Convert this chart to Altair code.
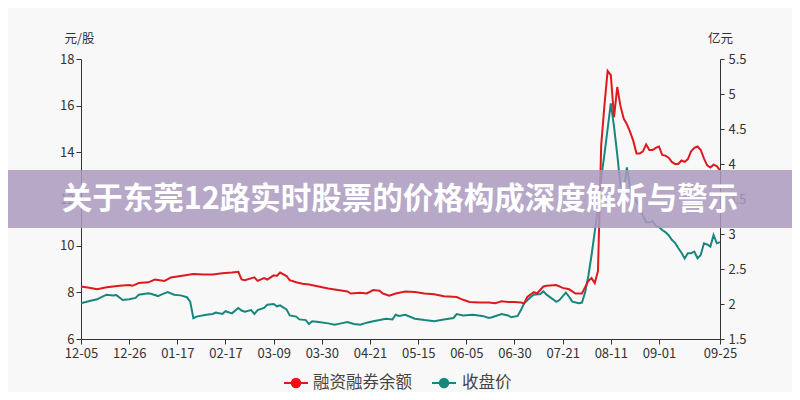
import json
import altair as alt
import pandas as pd

# ---- data ----
tick_days = [0, 15, 30, 45, 60, 75, 90, 105, 120, 135, 150, 165, 180, 199]
tick_labels = ["12-05", "12-26", "01-17", "02-17", "03-09", "03-30", "04-21",
               "05-15", "06-05", "06-30", "07-21", "08-11", "09-01", "09-25"]

series_names = ["融资融券余额", "收盘价"]
title_text = "关于东莞12路实时股票的价格构成深度解析与警示"

# 融资融券余额 (亿元, right axis)
margin_days = [0, 3, 5, 8, 12, 15, 16, 18, 21, 23, 26, 28, 31, 35, 38, 41, 44, 47, 49, 50,
               51, 54, 55, 57, 58, 60, 61, 62, 64, 65, 67, 69, 71, 74, 77, 80, 83, 84, 87, 89,
               91, 93, 94, 96, 98, 101, 104, 107, 110, 113, 117, 119, 121, 124, 127, 129, 131, 133, 135, 137,
               138, 139, 141, 142, 144, 145, 148, 150, 152, 154, 156, 158, 159, 160, 161, 162, 163, 164, 165, 166,
               167, 168, 169, 170, 171, 172, 173, 174, 175, 176, 177, 178, 179, 180, 181, 182, 183, 184, 185, 186,
               187, 188, 189, 190, 191, 192, 193, 194, 195, 196, 197, 198, 199]
margin_vals = [2.25, 2.23, 2.21, 2.24, 2.26, 2.27, 2.26, 2.30, 2.31, 2.35, 2.33, 2.38, 2.40, 2.43, 2.42, 2.42, 2.44, 2.45, 2.46, 2.35,
               2.34, 2.38, 2.33, 2.37, 2.35, 2.41, 2.40, 2.45, 2.40, 2.34, 2.31, 2.29, 2.28, 2.25, 2.22, 2.20, 2.18, 2.15, 2.16, 2.15,
               2.20, 2.19, 2.15, 2.12, 2.15, 2.18, 2.17, 2.15, 2.14, 2.11, 2.10, 2.06, 2.03, 2.02, 2.02, 2.01, 2.04, 2.03, 2.03, 2.02,
               2.01, 2.10, 2.17, 2.15, 2.25, 2.26, 2.27, 2.23, 2.21, 2.15, 2.15, 2.33, 2.37, 2.30, 2.47, 4.27, 4.83, 5.33, 5.27, 4.67,
               5.10, 4.83, 4.65, 4.57, 4.46, 4.33, 4.15, 4.15, 4.18, 4.28, 4.20, 4.20, 4.23, 4.25, 4.13, 4.12, 4.09, 4.03, 4.00, 4.00,
               4.05, 4.03, 4.07, 4.18, 4.23, 4.25, 4.20, 4.08, 3.98, 3.95, 3.99, 3.97, 3.91]

# 收盘价 (元/股, left axis)
price_days = [0, 3, 5, 7, 8, 10, 11, 13, 15, 17, 18, 21, 22, 24, 25, 27, 29, 31, 33, 34,
              35, 36, 39, 41, 42, 44, 45, 47, 49, 50, 51, 53, 54, 55, 57, 58, 60, 61, 62, 64,
              65, 67, 68, 70, 71, 72, 74, 77, 79, 81, 83, 85, 87, 89, 91, 93, 95, 97, 98, 99,
              101, 104, 107, 110, 113, 116, 117, 119, 122, 125, 127, 128, 131, 133, 134, 136, 137, 138, 140, 141,
              143, 144, 145, 147, 148, 149, 151, 152, 153, 155, 156, 157, 158, 159, 160, 161, 162, 163, 164, 165,
              166, 167, 168, 169, 170, 171, 172, 173, 174, 175, 176, 177, 178, 179, 180, 181, 182, 183, 184, 185,
              186, 187, 188, 189, 190, 191, 192, 193, 194, 195, 196, 197, 198, 199]
price_vals = [7.53, 7.64, 7.70, 7.84, 7.90, 7.86, 7.88, 7.67, 7.70, 7.76, 7.90, 7.96, 7.93, 7.84, 7.90, 8.01, 7.90, 7.87, 7.79, 7.60,
              6.89, 6.96, 7.04, 7.07, 7.13, 7.07, 7.19, 7.10, 7.33, 7.22, 7.17, 7.24, 7.07, 7.24, 7.33, 7.47, 7.50, 7.40, 7.44, 7.27,
              7.01, 6.96, 6.84, 6.81, 6.64, 6.76, 6.73, 6.67, 6.61, 6.67, 6.73, 6.64, 6.61, 6.70, 6.76, 6.81, 6.87, 6.84, 7.04, 6.99,
              7.04, 6.87, 6.81, 6.76, 6.84, 6.90, 7.07, 7.01, 7.04, 6.99, 6.90, 6.93, 7.07, 7.01, 6.93, 6.99, 7.24, 7.53, 7.79, 7.90,
              7.93, 8.04, 7.90, 7.70, 7.59, 7.67, 7.99, 7.81, 7.60, 7.53, 7.56, 8.00, 8.70, 9.60, 10.60, 11.60, 12.90, 13.90, 15.00, 16.10,
              15.10, 13.90, 12.60, 12.30, 13.35, 12.50, 12.10, 11.90, 11.70, 11.30, 11.00, 11.00, 11.05, 10.85, 10.80, 10.67, 10.58, 10.45, 10.25, 10.12,
              9.90, 9.70, 9.45, 9.68, 9.68, 9.75, 9.46, 9.60, 10.10, 10.05, 9.96, 10.46, 10.10, 10.15]

left_ticks = [6, 8, 10, 12, 14, 16, 18]
right_ticks = [1.5, 2, 2.5, 3, 3.5, 4, 4.5, 5, 5.5]

# ---- styling ----
FONT = "Noto Sans CJK SC"
RED = "#dd1a1f"
TEAL = "#17877e"
AXC = "#333333"
W, H = 639, 280

margin_df = pd.DataFrame({"day": margin_days, "margin": margin_vals})
price_df = pd.DataFrame({"day": price_days, "price": price_vals})
one = pd.DataFrame({"a": [0]})

label_expr = f"{json.dumps(tick_labels)}[indexof({json.dumps(tick_days)}, datum.value)]"

x_axis = alt.Axis(values=tick_days, labelExpr=label_expr, title=None, grid=False,
                  domainColor=AXC, tickColor=AXC, labelColor=AXC, labelFontSize=13,
                  labelFont=FONT, tickSize=5, labelPadding=3, labelFlush=False)
x_enc = alt.X("day:Q", scale=alt.Scale(domain=[0, 199], nice=False, zero=False), axis=x_axis)

price_line = alt.Chart(price_df).mark_line(color=TEAL, strokeWidth=2).encode(
    x=x_enc,
    y=alt.Y("price:Q", scale=alt.Scale(domain=[6, 18], nice=False, zero=False),
            axis=alt.Axis(orient="left", values=left_ticks, title="元/股", titleAngle=0,
                          titleAlign="center", titleBaseline="alphabetic", titleX=-2, titleY=-17,
                          titleFontSize=12.5, titleFontWeight="normal", titleFont=FONT, titleColor=AXC,
                          grid=False, domainColor=AXC, tickColor=AXC, labelColor=AXC,
                          labelFontSize=13, labelFont=FONT, tickSize=5, labelPadding=2)),
)

margin_line = alt.Chart(margin_df).mark_line(color=RED, strokeWidth=2).encode(
    x=x_enc,
    y=alt.Y("margin:Q", scale=alt.Scale(domain=[1.5, 5.5], nice=False, zero=False),
            axis=alt.Axis(orient="right", values=right_ticks, format=".2~f", title="亿元", titleAngle=0,
                          titleAlign="center", titleBaseline="alphabetic", titleX=0, titleY=-17,
                          titleFontSize=12.5, titleFontWeight="normal", titleFont=FONT, titleColor=AXC,
                          grid=False, domainColor=AXC, tickColor=AXC, labelColor=AXC,
                          labelFontSize=13, labelFont=FONT, tickSize=4, labelPadding=4)),
)

band = alt.Chart(one).mark_rect(color="#ad9ac0", opacity=0.85).encode(
    x=alt.value(-80), x2=alt.value(W + 80), y=alt.value(111), y2=alt.value(169)
)
title = alt.Chart(one).mark_text(fontSize=30.5, fontWeight="bold", color="white", font=FONT,
                                 align="center", baseline="middle").encode(
    x=alt.value(319), y=alt.value(141), text=alt.value(title_text)
)

LY = 324
leg_red_rule = alt.Chart(one).mark_rule(color=RED, strokeWidth=2).encode(
    x=alt.value(203), x2=alt.value(227), y=alt.value(LY))
leg_red_pt = alt.Chart(one).mark_point(filled=True, size=110, opacity=1, color="#ee1111").encode(
    x=alt.value(215), y=alt.value(LY))
leg_red_txt = alt.Chart(one).mark_text(align="left", baseline="middle", fontSize=16.5, color="#444444",
                                       font=FONT).encode(
    x=alt.value(232), y=alt.value(LY), text=alt.value(series_names[0]))
leg_teal_rule = alt.Chart(one).mark_rule(color=TEAL, strokeWidth=2).encode(
    x=alt.value(351), x2=alt.value(375), y=alt.value(LY))
leg_teal_pt = alt.Chart(one).mark_point(filled=True, size=110, opacity=1, color=TEAL).encode(
    x=alt.value(363), y=alt.value(LY))
leg_teal_txt = alt.Chart(one).mark_text(align="left", baseline="middle", fontSize=16.5, color="#444444",
                                        font=FONT).encode(
    x=alt.value(381), y=alt.value(LY), text=alt.value(series_names[1]))

chart = alt.layer(
    price_line, margin_line, band, title,
    leg_red_rule, leg_red_pt, leg_red_txt, leg_teal_rule, leg_teal_pt, leg_teal_txt,
).resolve_scale(y="independent").properties(
    width=W, height=H,
    autosize=alt.AutoSizeParams(type="none"),
    padding={"left": 73, "top": 51, "right": 72, "bottom": 53},
    background="#f8f8f8",
).configure_view(stroke=None)

chart.save("out.html", embed_options={"renderer": "svg", "actions": False})
